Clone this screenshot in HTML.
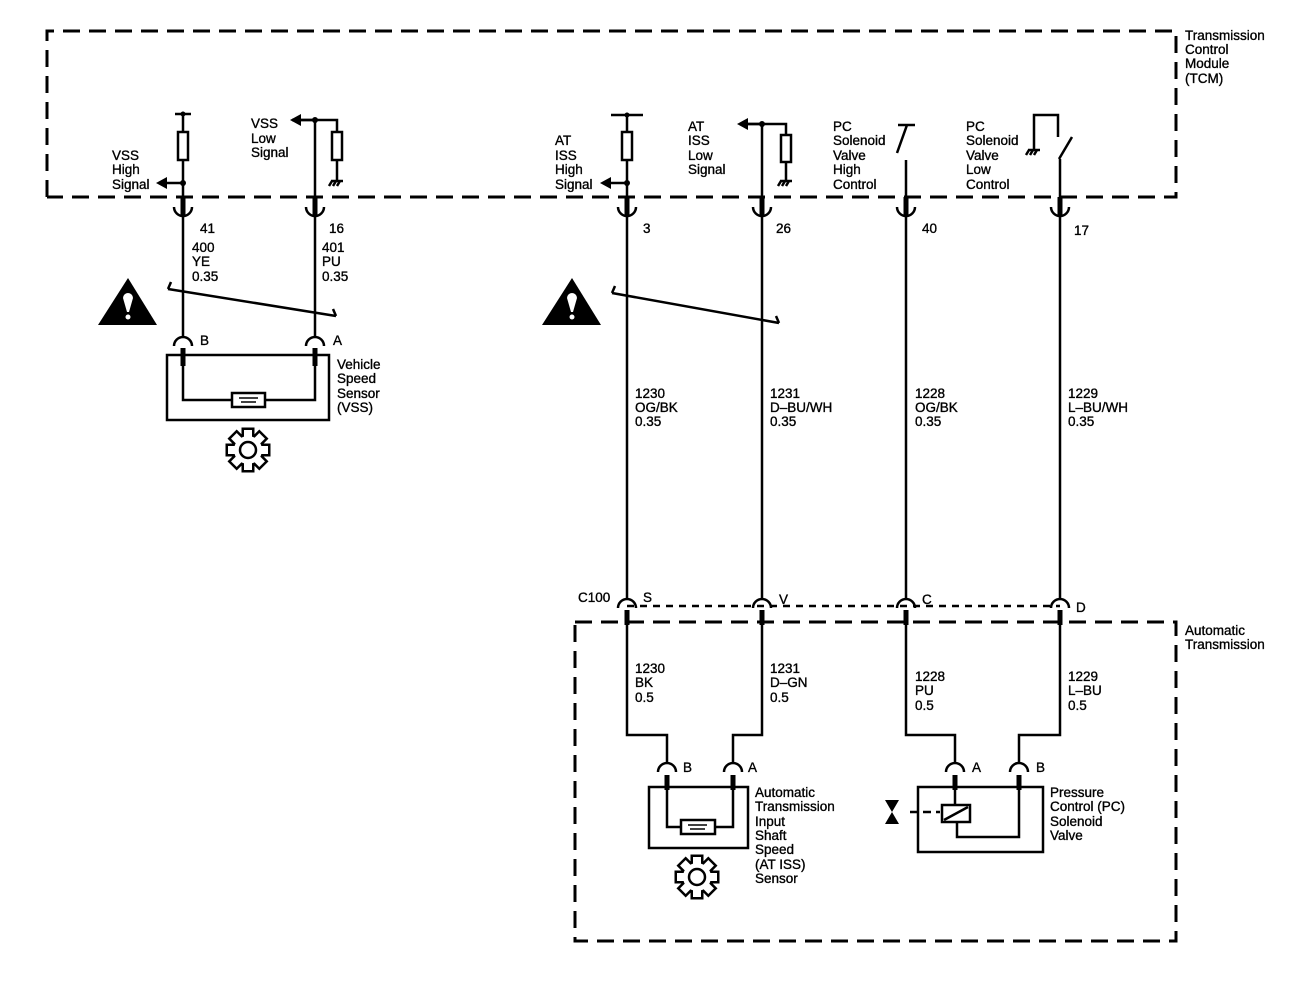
<!DOCTYPE html>
<html><head><meta charset="utf-8"><style>
html,body{margin:0;padding:0;background:#fff;}
svg{display:block;}
text{font-family:"Liberation Sans",Arial,sans-serif;font-size:13.5px;fill:#000;stroke:#000;stroke-width:0.35;}
</style></head><body>
<svg width="1312" height="984" viewBox="0 0 1312 984" xmlns="http://www.w3.org/2000/svg">
<defs>
<g id="cupT"><path d="M-9 207 A9 9 0 0 0 9 207" fill="none" stroke="#000" stroke-width="2.5"/><rect x="-2.5" y="197" width="5" height="18" fill="#000"/></g>
<g id="gs">
<circle r="14"/>
<rect x="-4" y="-20" width="8" height="9"/>
<rect x="-4" y="-20" width="8" height="9" transform="rotate(45)"/>
<rect x="-4" y="-20" width="8" height="9" transform="rotate(90)"/>
<rect x="-4" y="-20" width="8" height="9" transform="rotate(135)"/>
<rect x="-4" y="-20" width="8" height="9" transform="rotate(180)"/>
<rect x="-4" y="-20" width="8" height="9" transform="rotate(225)"/>
<rect x="-4" y="-20" width="8" height="9" transform="rotate(270)"/>
<rect x="-4" y="-20" width="8" height="9" transform="rotate(315)"/>
</g>
<g id="gear">
<use href="#gs" fill="#000" stroke="#000" stroke-width="5" stroke-linejoin="miter"/>
<use href="#gs" fill="#fff" stroke="none"/>
<circle r="8" fill="#fff" stroke="#000" stroke-width="2.5"/>
</g>
</defs>
<g fill="none" stroke="#000" stroke-width="3" stroke-dasharray="17 9">
<path d="M47 197 V31 H1176 V197 H47"/>
<path d="M575 622 H1176 V941 H575 V622"/>
</g>
<path d="M627 606 H1060" stroke="#000" stroke-width="2.5" stroke-dasharray="7 6"/>

<g stroke="#000" stroke-width="2.5" fill="none">
<path d="M175 114 H191 M183 114 V338"/>
<rect x="178" y="132" width="10" height="28" fill="#fff"/>
<path d="M315 120 V338 M292 120 H337 V132 M337 160 V180"/>
<rect x="332" y="132" width="10" height="28" fill="#fff"/>
<path d="M611 115 H643 M627 115 V599"/>
<rect x="622" y="132" width="10" height="28" fill="#fff"/>
<path d="M762 124 V599 M740 124 H786 V135 M786 162 V180"/>
<rect x="781" y="135" width="10" height="27" fill="#fff"/>
<path d="M898 125 H915 M907 125 L897 153 M906 160 V599"/>
<path d="M1034 150 V115 H1058 V137 M1072 137 L1059 159 M1060 159 V599"/>
<path d="M168 289 L336 316 M168 289 L171 282 M336 316 L333 309"/>
<path d="M612 293 L779 323 M612 293 L615 286 M779 323 L776 316"/>
<path d="M627 620 V735 H667 V763 M762 620 V735 H733 V763 M906 620 V735 H955 V763 M1060 620 V735 H1019 V763"/>
<rect x="167" y="355" width="162" height="65"/>
<path d="M183 350 V400 H232 M265 400 H315 V350"/>
<rect x="232" y="393" width="33" height="14" fill="#fff"/>
<rect x="649" y="787" width="99" height="61"/>
<path d="M667 780 V827 H681 M715 827 H733 V780"/>
<rect x="681" y="820" width="34" height="14" fill="#fff"/>
<rect x="918" y="787" width="125" height="65"/>
<path d="M955 780 V808 M957 822 V837 H1019 V780"/>
<rect x="942" y="805" width="28" height="17" fill="#fff"/>
<path d="M944 820 L968 807"/>
<path d="M910 812 H940" stroke-dasharray="8 5"/>
<path d="M174 346 A9 9 0 0 1 192 346 M306 346 A9 9 0 0 1 324 346"/>
<path d="M618 608 A9 9 0 0 1 636 608 M753 608 A9 9 0 0 1 771 608 M897 608 A9 9 0 0 1 915 608 M1051 608 A9 9 0 0 1 1069 608"/>
<path d="M658 772 A9 9 0 0 1 676 772 M724 772 A9 9 0 0 1 742 772 M946 772 A9 9 0 0 1 964 772 M1010 772 A9 9 0 0 1 1028 772"/>
<path d="M331 181 H343 M332 181 L329 186 M336 181 L333 186 M340 181 L337 186"/>
<path d="M780 181 H792 M781 181 L778 186 M785 181 L782 186 M789 181 L786 186"/>
<path d="M1028 150 H1040 M1029 150 L1026 155 M1033 150 L1030 155 M1037 150 L1034 155"/>
<path d="M239 398 H258 M241 402 H256 M688 825 H707 M690 829 H705" stroke-width="1.5"/>
</g>
<g fill="#000">
<rect x="180.5" y="348" width="5" height="18"/><rect x="312.5" y="348" width="5" height="18"/>
<rect x="624.5" y="610" width="5" height="15"/><rect x="759.5" y="610" width="5" height="15"/><rect x="903.5" y="610" width="5" height="15"/><rect x="1057.5" y="610" width="5" height="15"/>
<rect x="664.5" y="775" width="5" height="15"/><rect x="730.5" y="775" width="5" height="15"/><rect x="952.5" y="775" width="5" height="15"/><rect x="1016.5" y="775" width="5" height="15"/>
<circle cx="183" cy="114" r="2.5"/><circle cx="183" cy="183" r="3"/><circle cx="315" cy="120" r="3"/>
<circle cx="627" cy="115" r="2.5"/><circle cx="627" cy="183" r="3"/><circle cx="762" cy="124" r="3"/>
<path d="M183 183 H166" stroke="#000" stroke-width="2.5"/><path d="M156 183 L167 177 V189 Z"/>
<path d="M315 120 H300" stroke="#000" stroke-width="2.5"/><path d="M290 120 L301 114 V126 Z"/>
<path d="M627 183 H610" stroke="#000" stroke-width="2.5"/><path d="M600 183 L611 177 V189 Z"/>
<path d="M762 124 H747" stroke="#000" stroke-width="2.5"/><path d="M737 124 L748 118 V130 Z"/>
<path d="M98 325 L128 278 L157 325 Z"/><path d="M542 325 L572 278 L601 325 Z"/>
<path d="M885 800 H899 L892 812 Z M885 824 H899 L892 812 Z"/>
</g>
<g fill="#fff"><path d="M123 298 A5 5 0 0 1 133 298 L129 312 H127 Z"/><circle cx="128" cy="317" r="2.5"/><path d="M567 298 A5 5 0 0 1 577 298 L573 312 H571 Z"/><circle cx="572" cy="317" r="2.5"/></g>
<use href="#cupT" x="183"/><use href="#cupT" x="315"/><use href="#cupT" x="627"/><use href="#cupT" x="762"/><use href="#cupT" x="906"/><use href="#cupT" x="1060"/>
<use href="#gear" x="248" y="450"/><use href="#gear" x="697" y="877"/>

<text x="112" y="160">VSS</text><text x="112" y="174">High</text><text x="112" y="189">Signal</text>
<text x="251" y="128">VSS</text><text x="251" y="143">Low</text><text x="251" y="157">Signal</text>
<text x="200" y="233">41</text><text x="192" y="252">400</text><text x="192" y="266">YE</text><text x="192" y="281">0.35</text>
<text x="329" y="233">16</text><text x="322" y="252">401</text><text x="322" y="266">PU</text><text x="322" y="281">0.35</text>
<text x="200" y="345">B</text><text x="333" y="345">A</text>
<text x="337" y="369">Vehicle</text><text x="337" y="383">Speed</text><text x="337" y="398">Sensor</text><text x="337" y="412">(VSS)</text>
<text x="555" y="145">AT</text><text x="555" y="160">ISS</text><text x="555" y="174">High</text><text x="555" y="189">Signal</text>
<text x="688" y="131">AT</text><text x="688" y="145">ISS</text><text x="688" y="160">Low</text><text x="688" y="174">Signal</text>
<text x="833" y="131">PC</text><text x="833" y="145">Solenoid</text><text x="833" y="160">Valve</text><text x="833" y="174">High</text><text x="833" y="189">Control</text>
<text x="966" y="131">PC</text><text x="966" y="145">Solenoid</text><text x="966" y="160">Valve</text><text x="966" y="174">Low</text><text x="966" y="189">Control</text>
<text x="1185" y="40">Transmission</text><text x="1185" y="54">Control</text><text x="1185" y="68">Module</text><text x="1185" y="83">(TCM)</text>
<text x="643" y="233">3</text><text x="776" y="233">26</text><text x="922" y="233">40</text><text x="1074" y="235">17</text>
<text x="635" y="398">1230</text><text x="635" y="412">OG/BK</text><text x="635" y="426">0.35</text>
<text x="770" y="398">1231</text><text x="770" y="412">D–BU/WH</text><text x="770" y="426">0.35</text>
<text x="915" y="398">1228</text><text x="915" y="412">OG/BK</text><text x="915" y="426">0.35</text>
<text x="1068" y="398">1229</text><text x="1068" y="412">L–BU/WH</text><text x="1068" y="426">0.35</text>
<text x="578" y="602">C100</text><text x="643" y="602">S</text><text x="779" y="604">V</text><text x="922" y="604">C</text><text x="1076" y="612">D</text>
<text x="1185" y="635">Automatic</text><text x="1185" y="649">Transmission</text>
<text x="635" y="673">1230</text><text x="635" y="687">BK</text><text x="635" y="702">0.5</text>
<text x="770" y="673">1231</text><text x="770" y="687">D–GN</text><text x="770" y="702">0.5</text>
<text x="915" y="681">1228</text><text x="915" y="695">PU</text><text x="915" y="710">0.5</text>
<text x="1068" y="681">1229</text><text x="1068" y="695">L–BU</text><text x="1068" y="710">0.5</text>
<text x="683" y="772">B</text><text x="748" y="772">A</text><text x="972" y="772">A</text><text x="1036" y="772">B</text>
<text x="755" y="797">Automatic</text><text x="755" y="811">Transmission</text><text x="755" y="826">Input</text><text x="755" y="840">Shaft</text><text x="755" y="854">Speed</text><text x="755" y="869">(AT ISS)</text><text x="755" y="883">Sensor</text>
<text x="1050" y="797">Pressure</text><text x="1050" y="811">Control (PC)</text><text x="1050" y="826">Solenoid</text><text x="1050" y="840">Valve</text>
</svg>
</body></html>
